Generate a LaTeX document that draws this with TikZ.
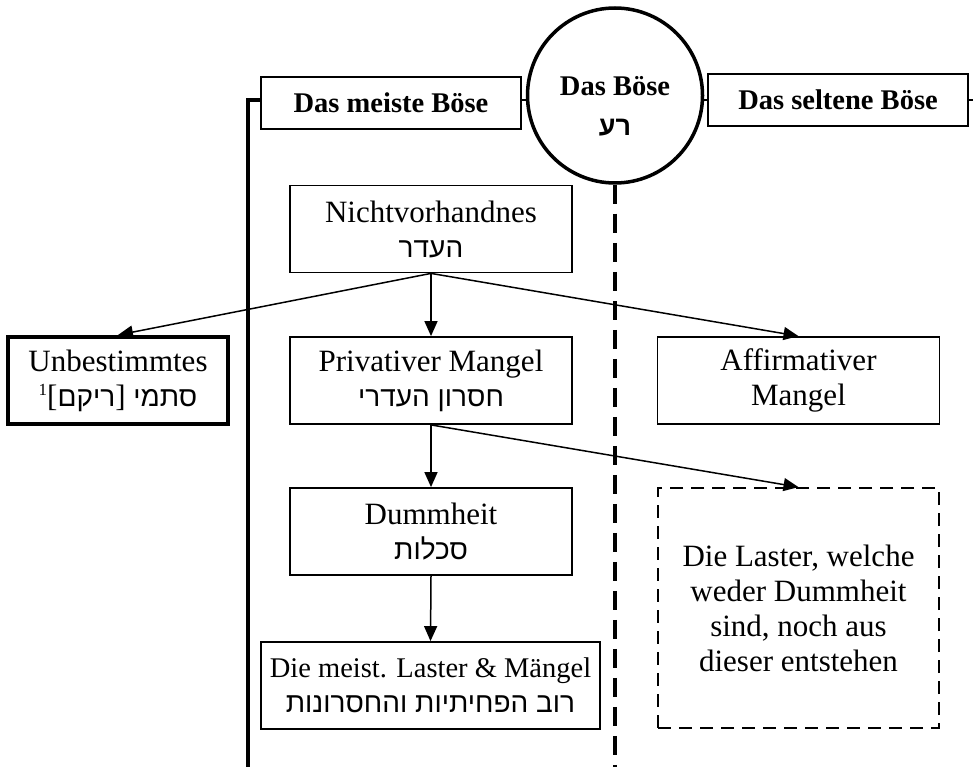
\documentclass[tikz,border=0pt]{standalone}
\usepackage{fontspec}
\setmainfont{Liberation Serif}
\newfontfamily\hebfont[Script=Hebrew]{Liberation Sans}
\TeXXeTstate=1
\usetikzlibrary{arrows.meta}
\newcommand{\heb}[1]{\hbox{\hebfont\fontsize{28}{34}\selectfont\beginR #1\endR}}
\tikzset{
  box/.style={draw, line width=1.8pt, rectangle, inner sep=0pt, align=center,
    font=\fontsize{31}{35}\selectfont},
  headbox/.style={box, minimum width=260, minimum height=52, font=\fontsize{28.5}{34}\selectfont\bfseries},
  midbox/.style={box, minimum width=282, minimum height=87},
  arr/.style={line width=1.5pt, -{Triangle[length=15pt, width=13pt]}},
}
\begin{document}
\begin{tikzpicture}[x=1pt, y=-1pt]
  \useasboundingbox (0,0) rectangle (973,767);

  % central circle and its two sides
  \node[draw, circle, line width=3.5pt, minimum size=175, inner sep=0pt] (bose) at (615,95.5) {};
  \node[align=center, inner sep=0pt, font=\fontsize{28.5}{40}\selectfont\bfseries] (bosetxt) at (615,106)
        {Das Böse\\\hbox{\hebfont\bfseries\fontsize{27}{30}\selectfont\beginR רע\endR}};
  \node[headbox] (meist) at (391,103) {Das meiste Böse};
  \node[headbox] (selten) at (838,100) {Das seltene Böse};
  \coordinate (rightend) at (973,100);
  \coordinate (brtop) at (247.5,100);
  \coordinate (brbot) at (247.5,767);
  \coordinate (dbot) at (615,767);

  \draw[line width=1.8pt] (meist.east |- 0,100) -- (bose.west |- 0,100);
  \draw[line width=1.8pt] (bose.east |- 0,100) -- (selten.west |- 0,100);
  \draw[line width=1.8pt] (selten.east |- 0,100) -- (rightend);
  \draw[line width=4pt] (meist.west |- 0,100) -- (brtop) -- (brbot);
  \draw[line width=4pt, dash pattern=on 19pt off 10pt] (bose.south) -- (dbot);

  % boxes
  \node[midbox] (nicht) at (431,229) {Nichtvorhandnes\\\heb{העדר}};
  \node[midbox] (priv) at (431,380.5) {Privativer Mangel\\\heb{חסרון העדרי}};
  \node[midbox] (dumm) at (431,531.5) {Dummheit\\\heb{סכלות}};
  \node[box, minimum width=339, minimum height=87, font=\fontsize{28.5}{35}\selectfont] (laster) at (430.5,685.5)
        {Die meist. Laster \& Mängel\\\heb{רוב הפחיתיות והחסרונות}};
  \node[box, line width=4pt, minimum width=220, minimum height=87] (unbest) at (118,380.5)
        {Unbestimmtes\\\hbox{\hbox{\raisebox{11pt}{\fontsize{17}{17}\selectfont 1}}\hbox{[}\heb{ריקם}\hbox{]}\hbox{ }\heb{סתמי}}};
  \node[midbox] (affirm) at (798.5,380.5) {Affirmativer\\Mangel};
  \node[box, dash pattern=on 13pt off 8pt, minimum width=281, minimum height=240]
        (laster2) at (798.5,608)
        {Die Laster, welche\\weder Dummheit\\sind, noch aus\\dieser entstehen};

  % connectors
  \draw[arr] (nicht.south) -- (priv.north);
  \draw[arr] (nicht.south) -- (unbest.north);
  \draw[arr] (nicht.south) -- (affirm.north);
  \draw[arr] (priv.south) -- (dumm.north);
  \draw[arr] (priv.south) -- (laster2.north);
  \draw[arr] (dumm.south) -- (laster.north);
\end{tikzpicture}
\end{document}
